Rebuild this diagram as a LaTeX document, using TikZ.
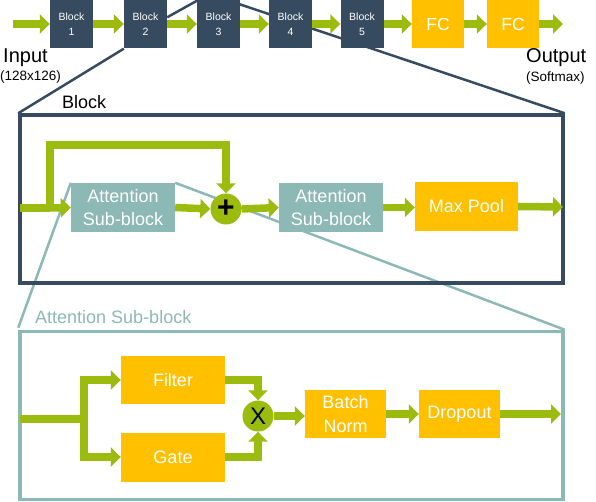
\documentclass[tikz,border=0pt]{standalone}
\usepackage{fontspec}
\setmainfont{Liberation Sans}
\usetikzlibrary{arrows.meta,backgrounds,calc}
\definecolor{grn}{HTML}{9BBB0E}
\definecolor{org}{HTML}{FFC000}
\definecolor{dk}{HTML}{364B5F}
\definecolor{tl}{HTML}{8CB8B5}
\begin{document}
\begin{tikzpicture}[x=1pt,y=-1pt,
  blk/.style={fill=dk, text=white, minimum width=43pt, minimum height=49pt, inner sep=0pt, align=center, font=\fontsize{10.5}{15}\selectfont},
  fcbox/.style={fill=org, text=white, minimum width=52pt, minimum height=49pt, inner sep=0pt, font=\fontsize{17.5}{20}\selectfont},
  att/.style={fill=tl, text=white, minimum width=104pt, minimum height=49pt, align=center, inner sep=0pt, font=\fontsize{18}{23}\selectfont},
  obox/.style={fill=org, text=white, align=center, inner sep=0pt, font=\fontsize{18}{24}\selectfont},
  arr/.style={draw=grn, line width=7.5pt, -{Triangle[width=19pt,length=10pt]}},
  gline/.style={draw=grn, line width=7.5pt},
  circ/.style={circle, fill=grn, minimum size=31pt, inner sep=0pt},
  zoomdk/.style={draw=dk, line width=2.5pt},
  zoomtl/.style={draw=tl, line width=2.5pt},
  lbl/.style={inner sep=0pt, anchor=west}]
\clip (0,0) rectangle (596,502);
% ---------- top row ----------
\node[blk] (b1) at (71.5,24) {Block\\1};
\node[blk] (b2) at (145.5,24) {Block\\2};
\node[blk] (b3) at (218.5,24) {Block\\3};
\node[blk] (b4) at (290.5,24) {Block\\4};
\node[blk] (b5) at (362,24) {Block\\5};
\node[fcbox] (fc1) at (438,24) {FC};
\node[fcbox] (fc2) at (513,24) {FC};
\coordinate (tin) at (13,24);
\coordinate (tout) at (563,24);
\draw[arr] (tin) -- (b1);
\draw[arr] (b1) -- (b2);
\draw[arr] (b2) -- (b3);
\draw[arr] (b3) -- (b4);
\draw[arr] (b4) -- (b5);
\draw[arr] (b5) -- (fc1);
\draw[arr] (fc1) -- (fc2);
\draw[arr] (fc2) -- (tout);
\node[lbl, font=\fontsize{20}{20}\selectfont] (inlbl) at (3,58) {Input};
\node[lbl, font=\fontsize{13.5}{14}\selectfont] (insz) at (0,77) {(128x126)};
\node[lbl, font=\fontsize{20}{20}\selectfont] (outlbl) at (526,58) {Output};
\node[lbl, font=\fontsize{13.5}{14}\selectfont] (outsm) at (526,78) {(Softmax)};
% ---------- Block box ----------
\node[draw=dk, line width=3.5pt, minimum width=543pt, minimum height=168pt, inner sep=0pt] (blockbox) at (291.5,199) {};
\node[lbl, font=\fontsize{18}{18}\selectfont] (blocklbl) at (62,102) {Block};
\node[att] (att1) at (123,207.5) {Attention\\Sub-block};
\node[circ, font=\fontsize{30}{30}\selectfont\bfseries] (plus) at (226,209) {+};
\node[att] (att2) at (331,207.5) {Attention\\Sub-block};
\node[obox, minimum width=103pt, minimum height=49pt] (mp) at (466.5,206.5) {Max Pool};
\coordinate (bin) at (20,208);
\coordinate (sk) at (50,208);
\coordinate (sktop) at (226,145);
\coordinate (bout) at (563,207);
\draw[gline] (bin) -- (sk);
\draw[arr] (sk) -- (att1.west);
\draw[arr] (sk) |- (sktop) -- (plus.north);
\draw[arr] (att1.east) -- (plus.west);
\draw[arr] (plus.east) -- (att2.west);
\draw[arr] (att2.east) -- (mp.west |- att2.east);
\draw[arr] (mp.east) -- (bout);
% ---------- Attention sub-block box ----------
\node[draw=tl, line width=3.5pt, minimum width=543pt, minimum height=168pt, inner sep=0pt] (attbox) at (291.5,415.5) {};
\node[lbl, text=tl, font=\fontsize{18}{18}\selectfont] (attlbl) at (35,317) {Attention Sub-block};
\node[obox, minimum width=104pt, minimum height=48pt] (filt) at (173,380) {Filter};
\node[obox, minimum width=104pt, minimum height=49pt] (gate) at (173,457) {Gate};
\node[circ, font=\fontsize{24}{24}\selectfont] (xc) at (258,416) {X};
\node[obox, minimum width=81pt, minimum height=48pt] (bn) at (345.5,414) {Batch\\Norm};
\node[obox, minimum width=81pt, minimum height=48pt] (drop) at (459.5,414) {Dropout};
\coordinate (ain) at (20,419);
\coordinate (br) at (84,419);
\coordinate (aout) at (561,414);
\draw[gline] (ain) -- (br);
\draw[arr] (br) |- (filt.west);
\draw[arr] (br) |- (gate.west);
\draw[arr] (filt.east) -| (xc.north);
\draw[arr] (gate.east) -| (xc.south);
\draw[arr] (xc.east) -- (bn.west |- xc.east);
\draw[arr] (bn.east) -- (drop.west);
\draw[arr] (drop.east) -- (aout);
% ---------- zoom lines (behind) ----------
\begin{pgfonlayer}{background}
\draw[zoomdk] (b2.south west) -- (blockbox.north west);
\draw[zoomdk] ($(b2.north east)+(0,18)$) -- (209,-6) -- (blockbox.north east);
\draw[zoomtl] (att1.north west) -- ($(attbox.north west)+(0,-2)$);
\draw[zoomtl] (att1.north east) -- (attbox.north east);
\end{pgfonlayer}
\end{tikzpicture}
\end{document}
